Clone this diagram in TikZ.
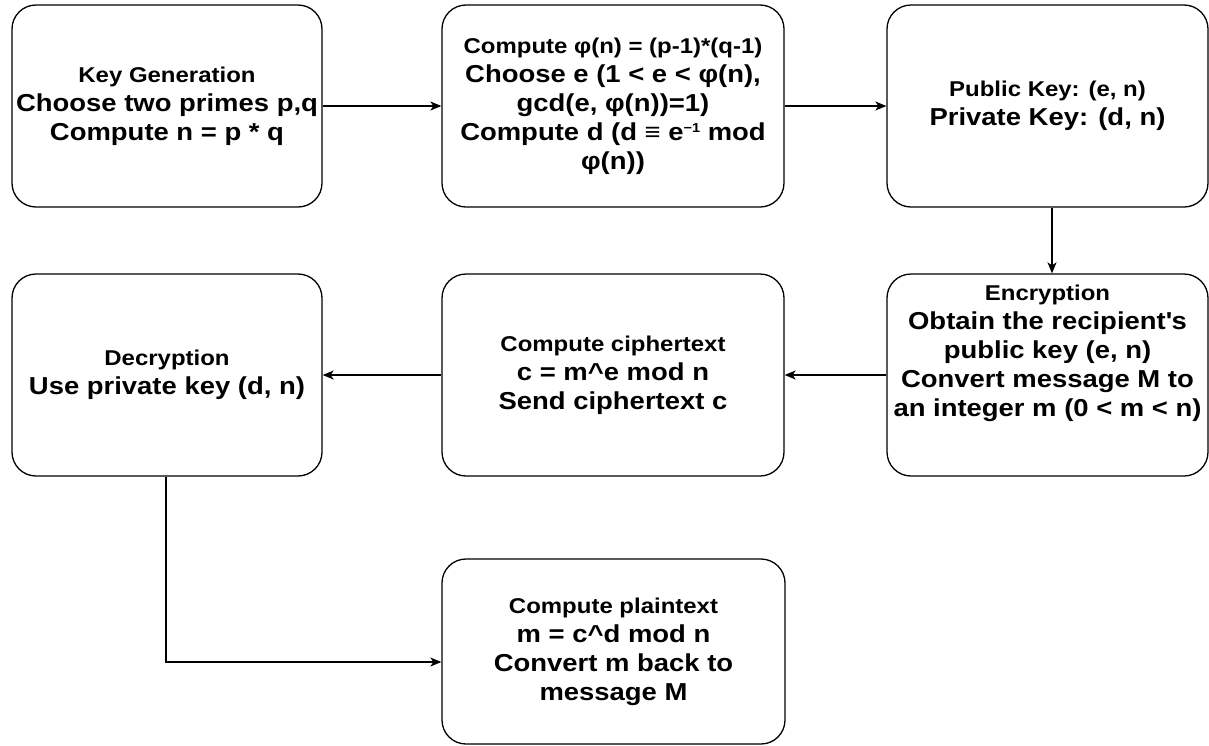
\documentclass[tikz,border=0pt]{standalone}
\usepackage{fontspec}
\setmainfont{Liberation Sans}[FakeStretch=1.12]
\usetikzlibrary{arrows.meta,calc}
\newcommand\smalltitle[1]{{\fontsize{21.4}{29}\selectfont #1}}
\newcommand\supminusone{\raisebox{8pt}{\fontsize{13}{13}\selectfont \char"2212 1}}
\tikzset{
  box/.style={draw=black, line width=1.3pt, rounded corners=24pt, inner sep=0pt,
    align=center, font=\bfseries\fontsize{24.5}{29}\selectfont, text=black},
  txt/.style={inner sep=0pt, align=center, font=\bfseries\fontsize{24.5}{29}\selectfont, text=black},
  arr/.style={draw=black, line width=1.3pt, -{Stealth[length=11pt,width=9pt,inset=3pt]}},
}
\begin{document}
\begin{tikzpicture}[x=1pt, y=-1pt]
\fill[white] (0,0) rectangle (1209,745);
\useasboundingbox (0,0) rectangle (1209,745);

\node[box, minimum width=310pt, minimum height=202pt] (k) at (167,106)
  {\smalltitle{Key Generation}\\Choose two primes p,q\\Compute n = p * q};
\node[box, minimum width=342pt, minimum height=202pt] (phi) at (613,106)
  {\smalltitle{Compute φ(n) = (p-1)*(q-1)}\\Choose e (1 < e < φ(n),\\gcd(e, φ(n))=1)\\Compute d (d ≡ e\supminusone{} mod\\φ(n))};
\node[box, minimum width=321pt, minimum height=202pt] (pub) at (1047.5,106)
  {\smalltitle{Public Key: (e, n)}\\Private Key: (d, n)};

\node[box, minimum width=321pt, minimum height=202pt] (enc) at (1047.5,375) {};
\node[txt] (enctext) at ([yshift=22pt]enc.center)
  {\smalltitle{Encryption}\\Obtain the recipient\textquotesingle s\\public key (e, n)\\Convert message M to\\an integer m (0 < m < n)};
\node[box, minimum width=342pt, minimum height=202pt] (cip) at (613,375)
  {\smalltitle{Compute ciphertext}\\c = m\textasciicircum e mod n\\Send ciphertext c};
\node[box, minimum width=310pt, minimum height=202pt] (dec) at (167,375)
  {\smalltitle{Decryption}\\Use private key (d, n)};

\node[box, minimum width=343pt, minimum height=185pt] (plain) at (613.5,651.5)
  {\smalltitle{Compute plaintext}\\m = c\textasciicircum d mod n\\Convert m back to\\message M};

\draw[arr] (k.east) -- (phi.west);
\draw[arr] (phi.east) -- (pub.west);
\draw[arr] ([xshift=4.5pt]pub.south) -- ([xshift=4.5pt]enc.north);
\draw[arr] (enc.west) -- (cip.east);
\draw[arr] (cip.west) -- (dec.east);
\draw[arr] ([xshift=-1pt]dec.south) |- ([yshift=-10.5pt]plain.west);
\end{tikzpicture}
\end{document}
